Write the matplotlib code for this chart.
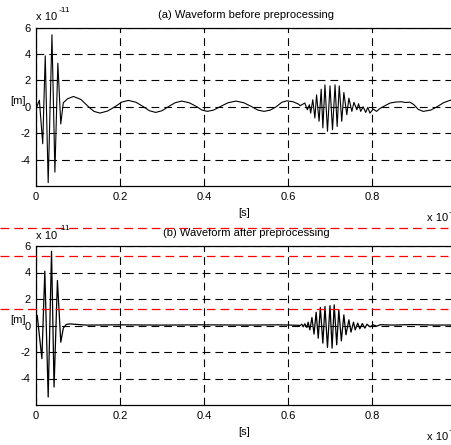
"""Two stacked waveforms (before / after preprocessing), MATLAB-style figure."""
import matplotlib
matplotlib.use("Agg")
import matplotlib.pyplot as plt

plt.rcParams.update({
    "font.family": ["Liberation Sans", "DejaVu Sans"],
    "font.size": 8,
    "axes.unicode_minus": False,
    "axes.linewidth": 0.9,
    "xtick.direction": "in",
    "ytick.direction": "in",
})

# ── data (time in x10^-3 s, amplitude in x10^-11 m) ──
T_RAW = [0.002, 0.008, 0.016, 0.022, 0.029, 0.038, 0.045, 0.052, 0.059, 0.065,
         0.075, 0.089, 0.107, 0.125, 0.138, 0.152, 0.170, 0.188, 0.204, 0.220,
         0.238, 0.256, 0.270, 0.285, 0.300, 0.315, 0.331, 0.347, 0.365, 0.383,
         0.395, 0.408, 0.423, 0.438, 0.457, 0.476, 0.495, 0.514, 0.528, 0.543,
         0.558, 0.572, 0.585, 0.597, 0.612, 0.625, 0.629, 0.640, 0.646, 0.651,
         0.654, 0.659, 0.664, 0.668, 0.674, 0.679, 0.683, 0.688, 0.694, 0.700,
         0.706, 0.712, 0.717, 0.722, 0.728, 0.733, 0.740, 0.745, 0.752, 0.757,
         0.764, 0.768, 0.773, 0.779, 0.785, 0.790, 0.795, 0.803, 0.811, 0.819,
         0.831, 0.843, 0.855, 0.870, 0.880, 0.890, 0.900, 0.910, 0.922, 0.940,
         0.955, 0.970, 0.985, 1.000]
Y_RAW = [0.0, 0.5, -2.8, 3.85, -5.75, 5.45, -4.95, 3.3, -1.3, 0.3,
         0.6, 0.78, 0.55, 0.0, -0.35, -0.48, -0.33, 0.0, 0.35, 0.48,
         0.34, 0.0, -0.3, -0.43, -0.3, 0.0, 0.3, 0.43, 0.3, 0.0,
         -0.25, -0.35, -0.25, 0.0, 0.3, 0.43, 0.3, 0.0, -0.25, -0.35,
         -0.25, 0.0, 0.33, 0.45, 0.38, 0.2, 0.08, 0.28, -0.23, 0.15,
         -0.48, 0.53, -0.85, 0.9, -1.1, 1.33, -1.6, 1.66, -1.86, 1.58,
         -1.74, 1.66, -1.49, 1.58, -1.1, 1.08, -0.6, 0.65, -0.35, 0.33,
         -0.23, 0.23, -0.35, 0.0, -0.43, -0.05, -0.48, -0.18, -0.35, -0.13,
         0.08, 0.28, 0.35, 0.38, 0.32, 0.35, 0.15, -0.2, -0.35, -0.25,
         0.0, 0.3, 0.48, 0.55]

T_PRE = [0.003, 0.014, 0.021, 0.029, 0.037, 0.043, 0.051, 0.059, 0.065, 0.072,
         0.080, 0.120, 0.200, 0.300, 0.400, 0.500, 0.580, 0.620, 0.629, 0.633,
         0.636, 0.640, 0.645, 0.648, 0.652, 0.657, 0.662, 0.667, 0.672, 0.677,
         0.683, 0.688, 0.694, 0.700, 0.705, 0.710, 0.716, 0.721, 0.727, 0.733,
         0.738, 0.745, 0.750, 0.756, 0.760, 0.766, 0.771, 0.777, 0.783, 0.788,
         0.795, 0.803, 0.811, 0.820, 0.850, 0.895, 0.950, 1.000]
Y_PRE = [0.75, -2.5, 4.1, -5.4, 5.6, -4.65, 3.4, -1.26, -0.2, 0.08,
         0.12, 0.03, 0.05, 0.03, 0.05, 0.03, 0.05, 0.02, 0.0, 0.1,
         -0.1, 0.13, -0.15, 0.25, -0.33, 0.6, -0.65, 1.0, -0.96, 1.36,
         -1.33, 1.43, -1.66, 1.5, -1.71, 1.56, -1.46, 1.18, -1.16, 0.8,
         -0.7, 0.43, -0.5, 0.25, -0.33, 0.18, -0.25, 0.15, -0.2, 0.1,
         -0.1, 0.05, -0.05, 0.06, 0.03, 0.07, 0.03, 0.04]

THRESHOLDS = [7.37, 5.23, 1.26]
X_TICKS = [0, 0.2, 0.4, 0.6, 0.8]
Y_TICKS = [-4, -2, 0, 2, 4, 6]

W, H = 452, 445
fig = plt.figure(figsize=(W / 100, H / 100), dpi=100)


def add_px_axes(left, top, right, bottom):
    return fig.add_axes([left / W, 1 - bottom / H, (right - left) / W, (bottom - top) / H])


def fig_text(x, y, s, **kw):
    fig.text(x / W, 1 - y / H, s, **kw)


def style(ax, title):
    ax.set_xlim(0, 1.0)
    ax.set_ylim(-6, 6)
    ax.set_xticks(X_TICKS)
    ax.set_xticklabels([f"{v:g}" for v in X_TICKS])
    ax.set_yticks(Y_TICKS)
    ax.set_yticklabels([f"{v:g}" for v in Y_TICKS])
    ax.tick_params(top=True, right=True, length=3, width=0.6, labelsize=8, pad=4)
    ax.grid(True, linestyle=(0, (7, 4.5)), color="black", linewidth=0.8)
    ax.set_title(title, fontsize=8, pad=7)


ax1 = add_px_axes(36, 27.5, 456, 186)
ax1.plot(T_RAW, Y_RAW, color="black", linewidth=0.8)
style(ax1, "(a) Waveform before preprocessing")

ax2 = add_px_axes(36, 246, 456, 405)
ax2.plot(T_PRE, Y_PRE, color="black", linewidth=0.9)
style(ax2, "(b) Waveform after preprocessing")
for th in THRESHOLDS:
    ax2.axhline(th, xmin=-0.086, xmax=0.98, color="#ff0000", linewidth=0.9,
                linestyle=(0, (7, 4)), clip_on=False, zorder=5)

# MATLAB-style exponent labels and units
for top, bottom in [(27.5, 186), (246, 405)]:
    fig_text(36, top - 10, "x 10", fontsize=8, va="center", ha="left")
    fig_text(58.5, top - 17, "-11", fontsize=6, va="center", ha="left")
    fig_text(10, top + 74, "[m]", fontsize=8, va="center", ha="left")
    fig_text(244, bottom + 27, "[s]", fontsize=8, va="center", ha="center")
    fig_text(427, bottom + 32, "x 10", fontsize=8, va="center", ha="left")
    fig_text(449, bottom + 26, "-3", fontsize=6, va="center", ha="left")

fig.savefig("out.png", dpi=100)
plt.close(fig)
